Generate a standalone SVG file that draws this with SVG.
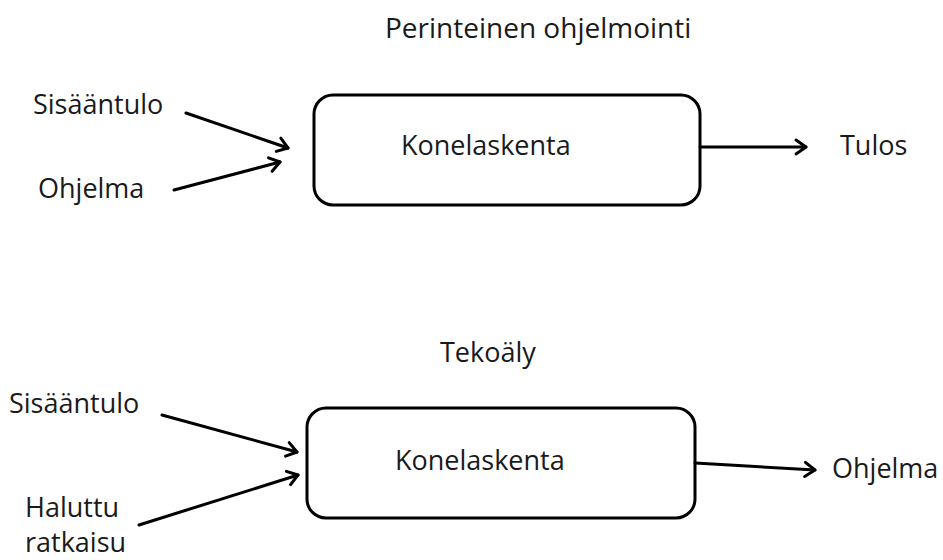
<svg xmlns="http://www.w3.org/2000/svg" width="943" height="560" viewBox="0 0 943 560">
<defs>
<marker id="arr" markerUnits="userSpaceOnUse" markerWidth="20" markerHeight="20" viewBox="0 0 20 20" refX="15" refY="10" orient="auto">
<path d="M5,3 L15,10 L5,17" fill="none" stroke="#000" stroke-width="3" stroke-linecap="round" stroke-linejoin="round"/>
</marker>
<style>
.t{font-family:"Open Sans","Noto Sans","DejaVu Sans",sans-serif;font-size:27px;fill:#1a1a1a}
.box{fill:#fff;stroke:#000;stroke-width:3}
.c{fill:none;stroke:#000;stroke-width:3;stroke-linecap:round}
</style>
</defs>
<rect width="943" height="560" fill="#fff"/>
<text class="t" x="385" y="38" style="font-size:28px">Perinteinen ohjelmointi</text>
<text class="t" x="440" y="362">Tekoäly</text>
<g id="compute1">
<rect class="box" x="314" y="95" width="386" height="110" rx="19"/>
<text class="t" x="401" y="155">Konelaskenta</text>
</g>
<g id="compute2">
<rect class="box" x="307" y="408" width="388" height="110" rx="19"/>
<text class="t" x="395" y="470">Konelaskenta</text>
</g>
<g id="input1"><text class="t" x="33" y="114">Sisääntulo</text></g>
<g id="program1"><text class="t" x="38" y="198">Ohjelma</text></g>
<g id="result1"><text class="t" x="840" y="155">Tulos</text></g>
<g id="input2"><text class="t" x="9" y="413">Sisääntulo</text></g>
<g id="desired2"><text class="t" x="25" y="517">Haluttu</text><text class="t" x="25" y="552">ratkaisu</text></g>
<g id="program2"><text class="t" x="832" y="478">Ohjelma</text></g>
<g id="connectors">
<line class="c" x1="186" y1="113" x2="288" y2="148" marker-end="url(#arr)"/>
<line class="c" x1="174" y1="190" x2="280" y2="162" marker-end="url(#arr)"/>
<line class="c" x1="700" y1="147" x2="806" y2="147" marker-end="url(#arr)"/>
<line class="c" x1="162" y1="415" x2="297" y2="452" marker-end="url(#arr)"/>
<line class="c" x1="139" y1="525" x2="298" y2="475" marker-end="url(#arr)"/>
<line class="c" x1="695" y1="463" x2="815" y2="470" marker-end="url(#arr)"/>
</g>
</svg>
